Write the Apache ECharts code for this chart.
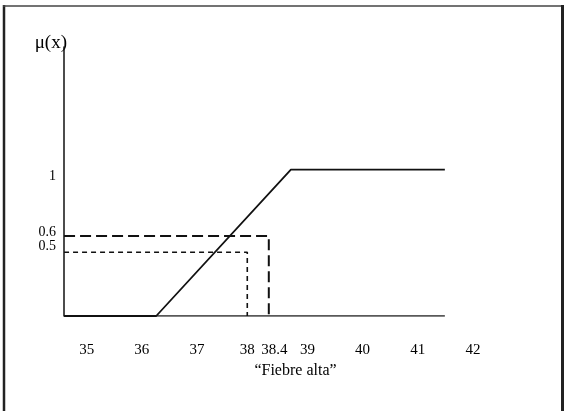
<!DOCTYPE html>
<html>
<head>
<meta charset="utf-8">
<script src="https://cdn.jsdelivr.net/npm/echarts@6/dist/echarts.min.js"></script>
<style>
html,body{margin:0;padding:0;background:#fff;}
#chart{width:573px;height:411px;}
</style>
</head>
<body>
<div id="chart"></div>
<script>
// Tick labels (value, text)
const xTickValues = [35, 36, 37, 38, 38.4, 39, 40, 41, 42];
const xTickLabels = ['35', '36', '37', '38', '38.4', '39', '40', '41', '42'];
const yTickValues = [0.5, 0.6, 1];
const yTickLabels = ['0.5', '0.6', '1'];

// Membership function "Fiebre alta"
const membershipX = [34.59, 36.26, 38.70, 41.49];
const membershipY = [0, 0, 1.046, 1.046];

// Baseline (x axis drawn up to end of function)
const baselineX = [34.59, 41.49];
const baselineY = [0, 0];

// Dashed guide (0.6 / 38.4)
const dashedX = [34.59, 38.30, 38.30];
const dashedY = [0.571, 0.571, 0];

// Dotted guide (0.5 / 38)
const dottedX = [34.59, 37.91, 37.91];
const dottedY = [0.455, 0.455, 0];

const zip = (xs, ys) => xs.map((x, i) => [x, ys[i]]);
const FONT = '"Liberation Serif", "DejaVu Serif", serif';

const chart = echarts.init(document.getElementById('chart'));
chart.setOption({
  backgroundColor: '#ffffff',
  animation: false,
  grid: { left: 64, right: 100, top: 47, bottom: 95 },
  xAxis: {
    type: 'value',
    min: 34.589,
    max: 42,
    name: '\u201CFiebre alta\u201D',
    nameLocation: 'middle',
    nameGap: 32,
    nameTextStyle: { fontFamily: FONT, fontSize: 16, color: '#000', padding: [0, 0, 0, 54] },
    axisLine: { show: false },
    axisTick: { show: false },
    splitLine: { show: false },
    axisLabel: {
      customValues: xTickValues,
      showMinLabel: true,
      showMaxLabel: true,
      margin: 27,
      fontFamily: FONT,
      fontSize: 15,
      color: '#000',
      formatter: function (v) {
        const i = xTickValues.indexOf(v);
        const t = i >= 0 ? xTickLabels[i] : '';
        return v === 38 ? '{s|' + t + '}' : t;
      },
      rich: { s: { fontFamily: FONT, fontSize: 15, color: '#000', padding: [0, 10, 0, 0] } }
    }
  },
  yAxis: {
    type: 'value',
    min: 0,
    max: 1.921,
    name: '\u03BC(x)',
    nameLocation: 'end',
    nameGap: 4,
    nameTextStyle: { fontFamily: FONT, fontSize: 19, color: '#000', align: 'right', verticalAlign: 'middle', padding: [0, -3, 0, 0] },
    axisLine: { show: true, onZero: false, lineStyle: { color: '#111', width: 1.5 } },
    axisTick: { show: false },
    splitLine: { show: false },
    axisLabel: {
      customValues: yTickValues,
      margin: 8,
      fontFamily: FONT,
      fontSize: 14,
      color: '#000',
      formatter: function (v) {
        const i = yTickValues.indexOf(v);
        return i >= 0 ? yTickLabels[i] : '';
      }
    }
  },
  series: [
    {
      type: 'line', name: 'baseline', data: zip(baselineX, baselineY),
      symbol: 'none', lineStyle: { color: '#222', width: 1.6 }
    },
    {
      type: 'line', name: '0.6', data: zip(dashedX, dashedY),
      symbol: 'none', lineStyle: { color: '#111', width: 2, type: [11, 5] }
    },
    {
      type: 'line', name: '0.5', data: zip(dottedX, dottedY),
      symbol: 'none', lineStyle: { color: '#111', width: 1.6, type: [5, 4] }
    },
    {
      type: 'line', name: 'Fiebre alta', data: zip(membershipX, membershipY),
      symbol: 'none', lineStyle: { color: '#111', width: 1.8 }
    }
  ],
  graphic: [
    { type: 'line', shape: { x1: 4, y1: 5, x2: 4, y2: 411 }, style: { stroke: '#222', lineWidth: 2.5 } },
    { type: 'line', shape: { x1: 3, y1: 6, x2: 563, y2: 6 }, style: { stroke: '#444', lineWidth: 1.5 } },
    { type: 'line', shape: { x1: 562.5, y1: 5, x2: 562.5, y2: 411 }, style: { stroke: '#222', lineWidth: 3 } }
  ]
});
</script>
</body>
</html>
